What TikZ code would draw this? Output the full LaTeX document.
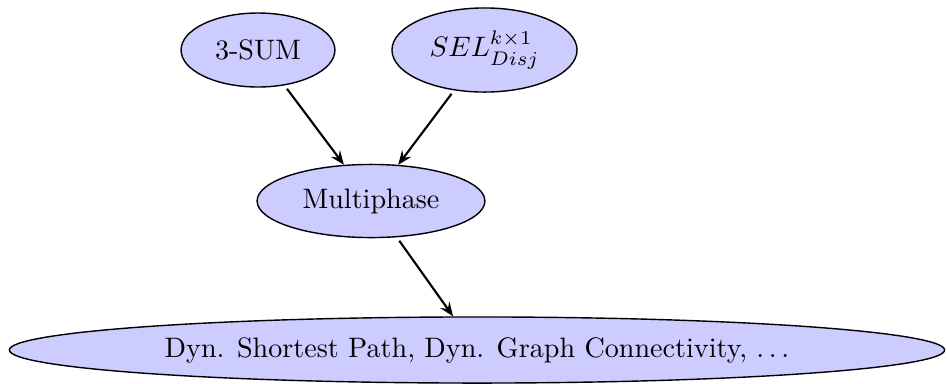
\documentclass[tikz,border=0pt]{standalone}
\usetikzlibrary{shapes.geometric,arrows.meta}
\begin{document}
\begin{tikzpicture}[x=0.3555pt,y=-0.3555pt,
  prob/.style={ellipse,draw=black,fill=blue!20,inner sep=0pt,line width=0.5pt},
  red/.style={-{Stealth[length=5pt,width=4pt,inset=1.8pt]},line width=0.75pt,shorten <=1.5pt}]
\useasboundingbox (0,0) rectangle (947,383);
\node[prob,minimum width=54.7pt,minimum height=26.3pt] (sum) at (258,50) {3-SUM};
\node[prob,minimum width=65.8pt,minimum height=29.9pt] (sel) at (484.5,50) {$SEL^{k\times 1}_{Disj}$};
\node[prob,minimum width=81pt,minimum height=26pt] (mp) at (371,201) {Multiphase};
\node[prob,minimum width=332.5pt,minimum height=23.5pt] (dyn) at (477,350) {Dyn. Shortest Path, Dyn. Graph Connectivity, $\ldots$};
\draw[red] (sum) -- (mp);
\draw[red] (sel) -- (mp);
\draw[red] (mp) -- (dyn);
\end{tikzpicture}
\end{document}
